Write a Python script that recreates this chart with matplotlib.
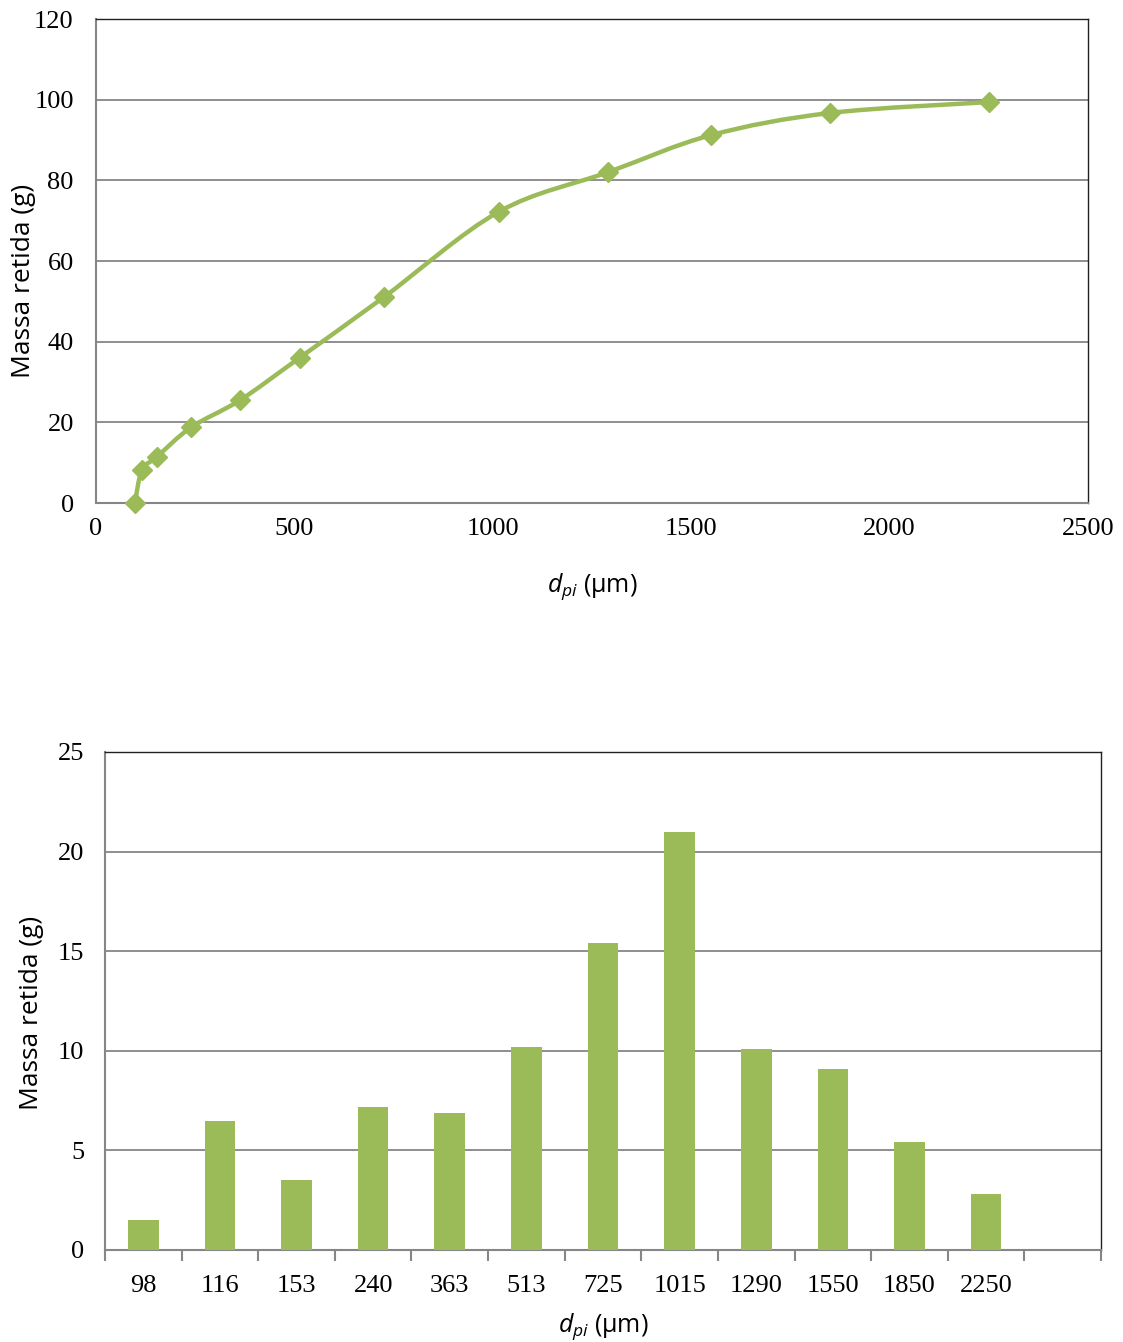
import numpy as np
import matplotlib
matplotlib.use("Agg")
import matplotlib.pyplot as plt
from matplotlib.path import Path
from matplotlib.patches import PathPatch

# Particle diameters (µm) and retained mass (g)
diameters = [98, 116, 153, 240, 363, 513, 725, 1015, 1290, 1550, 1850, 2250]
cumulative_mass = [0, 8.2, 11.4, 18.8, 25.5, 36.0, 51.0, 72.2, 82.0, 91.2, 96.7, 99.4]
retained_mass = [1.5, 6.5, 3.5, 7.2, 6.9, 10.2, 15.4, 21.0, 10.1, 9.1, 5.4, 2.8]
bar_labels = ["98", "116", "153", "240", "363", "513", "725", "1015", "1290",
              "1550", "1850", "2250"]

GREEN = "#9BBB59"
GRID = "#868686"
SERIF = "Liberation Serif"
SANS = "Open Sans"

plt.rcParams["mathtext.fontset"] = "custom"
plt.rcParams["mathtext.it"] = "Open Sans:italic"
plt.rcParams["mathtext.rm"] = "Open Sans"

W, H = 1123, 1342
fig = plt.figure(figsize=(W / 100, H / 100), dpi=100)


def axes_px(left, top, right, bottom):
    return fig.add_axes([left / W, 1 - bottom / H, (right - left) / W, (bottom - top) / H])


def style_axes(ax):
    ax.grid(axis="y", color=GRID, linewidth=1.3)
    ax.set_axisbelow(True)
    for side in ("left", "bottom"):
        ax.spines[side].set_color(GRID)
        ax.spines[side].set_linewidth(1.5)
    for side in ("top", "right"):
        ax.spines[side].set_color("#202020")
        ax.spines[side].set_linewidth(1.0)
    for lab in ax.get_xticklabels() + ax.get_yticklabels():
        lab.set_fontfamily(SERIF)
        lab.set_fontsize(19)


def smooth_path(ax, xs, ys, tension=1 / 6):
    """Cubic Bezier path through the points (Catmull-Rom style control points)."""
    pts = np.column_stack([xs, ys]).astype(float)
    # work in display space so the smoothing is not distorted by axis scales
    disp = ax.transData.transform(pts)
    verts = [disp[0]]
    codes = [Path.MOVETO]
    n = len(disp)
    for i in range(n - 1):
        p0 = disp[i - 1] if i > 0 else disp[i]
        p1 = disp[i]
        p2 = disp[i + 1]
        p3 = disp[i + 2] if i + 2 < n else disp[i + 1]
        c1 = p1 + (p2 - p0) * tension
        c2 = p2 - (p3 - p1) * tension
        verts += [c1, c2, p2]
        codes += [Path.CURVE4] * 3
    return Path(ax.transData.inverted().transform(np.array(verts)), codes)


# ---- cumulative curve ----
ax1 = axes_px(96, 19, 1088, 503)
ax1.set_xlim(0, 2500)
ax1.set_ylim(0, 120)
ax1.set_xticks(np.arange(0, 2501, 500))
ax1.set_yticks(np.arange(0, 121, 20))
ax1.tick_params(axis="x", length=0, pad=11)
ax1.tick_params(axis="y", length=0, pad=16)
style_axes(ax1)
ax1.figure.canvas.draw()
ax1.add_patch(PathPatch(smooth_path(ax1, diameters, cumulative_mass), facecolor="none",
                        edgecolor=GREEN, linewidth=3.2, capstyle="round", joinstyle="round",
                        clip_on=False, zorder=3))
ax1.plot(diameters, cumulative_mass, linestyle="none", marker="D", markersize=10,
         color=GREEN, clip_on=False, zorder=4)
ax1.set_ylabel("Massa retida (g)", fontfamily=SANS, fontsize=19)
ax1.yaxis.set_label_coords(-0.060, 0.459)
ax1.set_xlabel(r"$d_{pi}$ (µm)", fontfamily=SANS, fontsize=18, labelpad=22)

# ---- retained mass per diameter ----
ax2 = axes_px(105, 752, 1101, 1250)
n_slots = len(bar_labels) + 1
pos = np.arange(len(bar_labels)) + 0.5
ax2.bar(pos, retained_mass, width=0.4, color=GREEN, zorder=3)
ax2.set_xlim(0, n_slots)
ax2.set_ylim(0, 25)
ax2.set_yticks(np.arange(0, 26, 5))
ax2.set_xticks(pos)
ax2.set_xticklabels(bar_labels)
ax2.set_xticks(np.arange(0, n_slots + 1), minor=True)
ax2.tick_params(axis="x", which="major", length=0, pad=18)
ax2.tick_params(axis="x", which="minor", length=8, width=1.5, color=GRID, direction="out")
ax2.tick_params(axis="y", length=0, pad=15)
style_axes(ax2)
ax2.set_ylabel("Massa retida (g)", fontfamily=SANS, fontsize=19)
ax2.yaxis.set_label_coords(-0.061, 0.476)
ax2.set_xlabel(r"$d_{pi}$ (µm)", fontfamily=SANS, fontsize=18, labelpad=10)

fig.savefig("out.png", dpi=100)
